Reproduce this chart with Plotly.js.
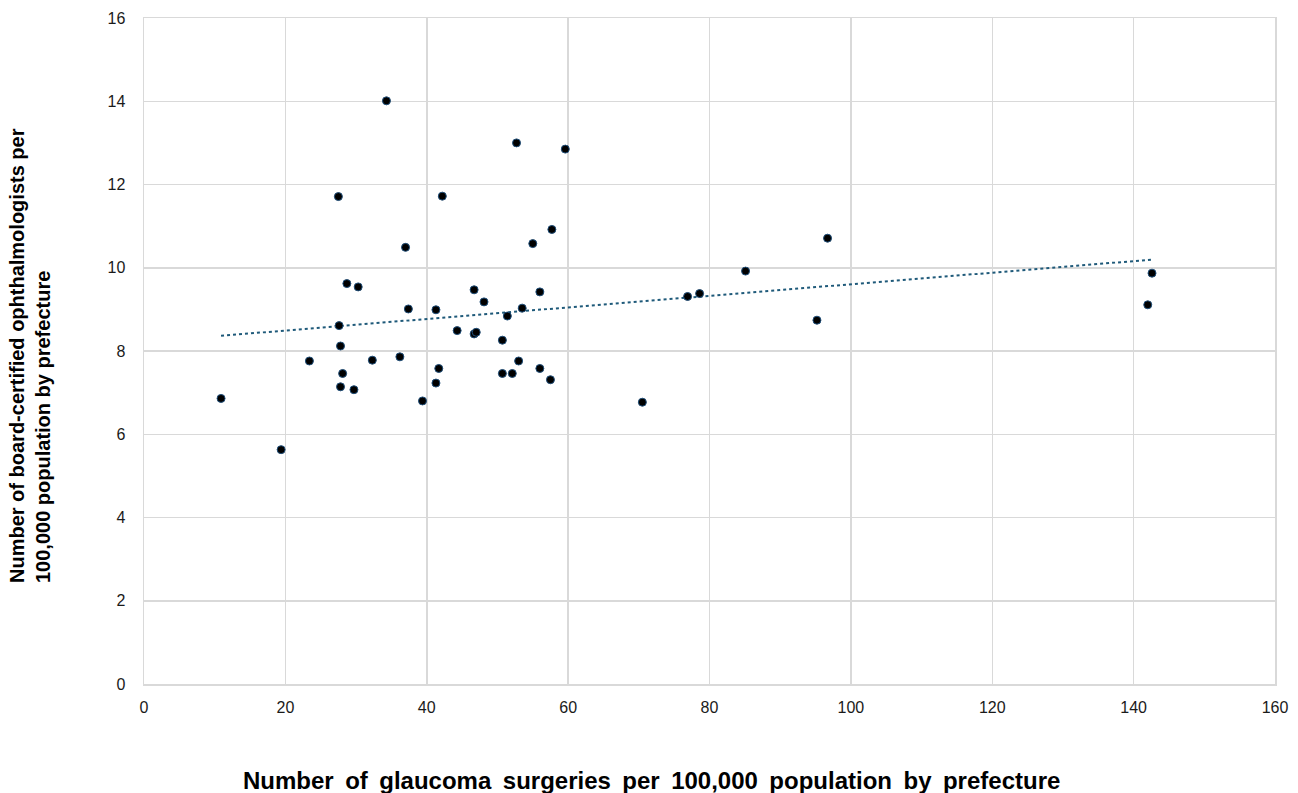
<!DOCTYPE html>
<html>
<head>
<meta charset="utf-8">
<script src="https://cdn.plot.ly/plotly-3.0.1.min.js"></script>
<style>
  html, body { margin: 0; padding: 0; background: #fff; }
  #chart { width: 1298px; height: 793px; }
</style>
</head>
<body>
<div id="chart"></div>
<script>
// Glaucoma surgeries per 100,000 population, one value per prefecture
const surgeries = [
  10.9, 19.4, 23.4, 27.5, 27.6, 27.8, 28.1, 27.8, 28.7, 30.3,
  29.7, 32.3, 34.3, 36.2, 37.0, 37.4, 39.4, 41.3, 41.7, 41.3,
  42.2, 44.3, 46.7, 46.7, 47.0, 48.1, 50.7, 50.7, 51.4, 52.1,
  52.7, 53.0, 53.5, 55.0, 56.0, 56.0, 57.5, 57.7, 59.6, 70.5,
  76.9, 78.6, 85.1, 95.2, 96.7, 142.0, 142.6
];
// Board-certified ophthalmologists per 100,000 population, same order
const ophthalmologists = [
  6.86, 5.63, 7.76, 11.71, 8.61, 8.12, 7.46, 7.14, 9.62, 9.54,
  7.07, 7.78, 14.01, 7.86, 10.49, 9.01, 6.80, 8.99, 7.58, 7.23,
  11.72, 8.49, 9.47, 8.41, 8.45, 9.18, 8.26, 7.46, 8.84, 7.46,
  13.00, 7.76, 9.03, 10.58, 9.42, 7.58, 7.31, 10.92, 12.85, 6.77,
  9.31, 9.38, 9.92, 8.74, 10.71, 9.11, 9.87
];

const xTicks = [0, 20, 40, 60, 80, 100, 120, 140, 160];
const yTicks = [0, 2, 4, 6, 8, 10, 12, 14, 16];

const xTitle = 'Number of glaucoma surgeries per 100,000 population by prefecture';
const yTitleLines = [
  'Number of board-certified ophthalmologists per',
  '100,000 population by prefecture'
];

// Least-squares linear trend over the data range
function linearFit(xs, ys) {
  const n = xs.length;
  const mx = xs.reduce((a, b) => a + b, 0) / n;
  const my = ys.reduce((a, b) => a + b, 0) / n;
  let sxy = 0, sxx = 0;
  for (let i = 0; i < n; i++) {
    sxy += (xs[i] - mx) * (ys[i] - my);
    sxx += (xs[i] - mx) * (xs[i] - mx);
  }
  const slope = sxy / sxx;
  return { slope, intercept: my - slope * mx };
}
const fit = linearFit(surgeries, ophthalmologists);
const xMin = Math.min(...surgeries);
const xMax = Math.max(...surgeries);
const trendX = [xMin, xMax];
const trendY = trendX.map(x => fit.intercept + fit.slope * x);

const points = {
  x: surgeries,
  y: ophthalmologists,
  type: 'scatter',
  mode: 'markers',
  marker: { size: 8, color: '#000000', line: { color: '#1f4e79', width: 1 } },
  hoverinfo: 'x+y',
  showlegend: false
};

const trend = {
  x: trendX,
  y: trendY,
  type: 'scatter',
  mode: 'lines',
  line: { color: '#1f5a7a', width: 2, dash: 'dot' },
  hoverinfo: 'skip',
  showlegend: false
};

const fontFamily = 'Liberation Sans, Arial, sans-serif';
const tickFont = { family: fontFamily, size: 16, color: '#1a1a1a' };

const plotW = 1298 - 144 - 23;
const plotH = 793 - 18 - 109;

const layout = {
  width: 1298,
  height: 793,
  paper_bgcolor: '#ffffff',
  plot_bgcolor: '#ffffff',
  margin: { l: 144, r: 23, t: 18, b: 109 },
  xaxis: {
    range: [0, 160],
    tickvals: xTicks,
    ticktext: xTicks.map(String),
    showgrid: true,
    gridcolor: '#d9d9d9',
    gridwidth: 1.5,
    zeroline: false,
    showline: true,
    linecolor: '#d9d9d9',
    linewidth: 1.5,
    mirror: true,
    ticks: '',
    ticklabelstandoff: 8,
    tickfont: tickFont,
    fixedrange: true
  },
  yaxis: {
    range: [0, 16],
    tickvals: yTicks,
    ticktext: yTicks.map(String),
    showgrid: true,
    gridcolor: '#d9d9d9',
    gridwidth: 1.5,
    zeroline: false,
    showline: true,
    linecolor: '#d9d9d9',
    linewidth: 1.5,
    mirror: true,
    ticks: '',
    ticklabelstandoff: 14,
    tickfont: tickFont,
    fixedrange: true
  },
  annotations: [
    {
      // widened word spacing in the horizontal axis title
      text: '<b>' + xTitle.split(' ').join(' \u2009') + '</b>',
      xref: 'paper', yref: 'paper',
      x: (651 - 144) / plotW,
      y: -(780 - 684) / plotH,
      xanchor: 'center', yanchor: 'middle',
      showarrow: false,
      font: { family: fontFamily, size: 24, color: '#000000' }
    },
    {
      text: '<b>' + yTitleLines.join('<br>') + '</b>',
      xref: 'paper', yref: 'paper',
      x: -(144 - 30) / plotW,
      y: (684 - 356) / plotH,
      xanchor: 'center', yanchor: 'middle',
      textangle: -90,
      showarrow: false,
      align: 'left',
      font: { family: fontFamily, size: 20, color: '#000000' }
    }
  ]
};

Plotly.newPlot('chart', [trend, points], layout, { displayModeBar: false, staticPlot: true });
</script>
</body>
</html>
